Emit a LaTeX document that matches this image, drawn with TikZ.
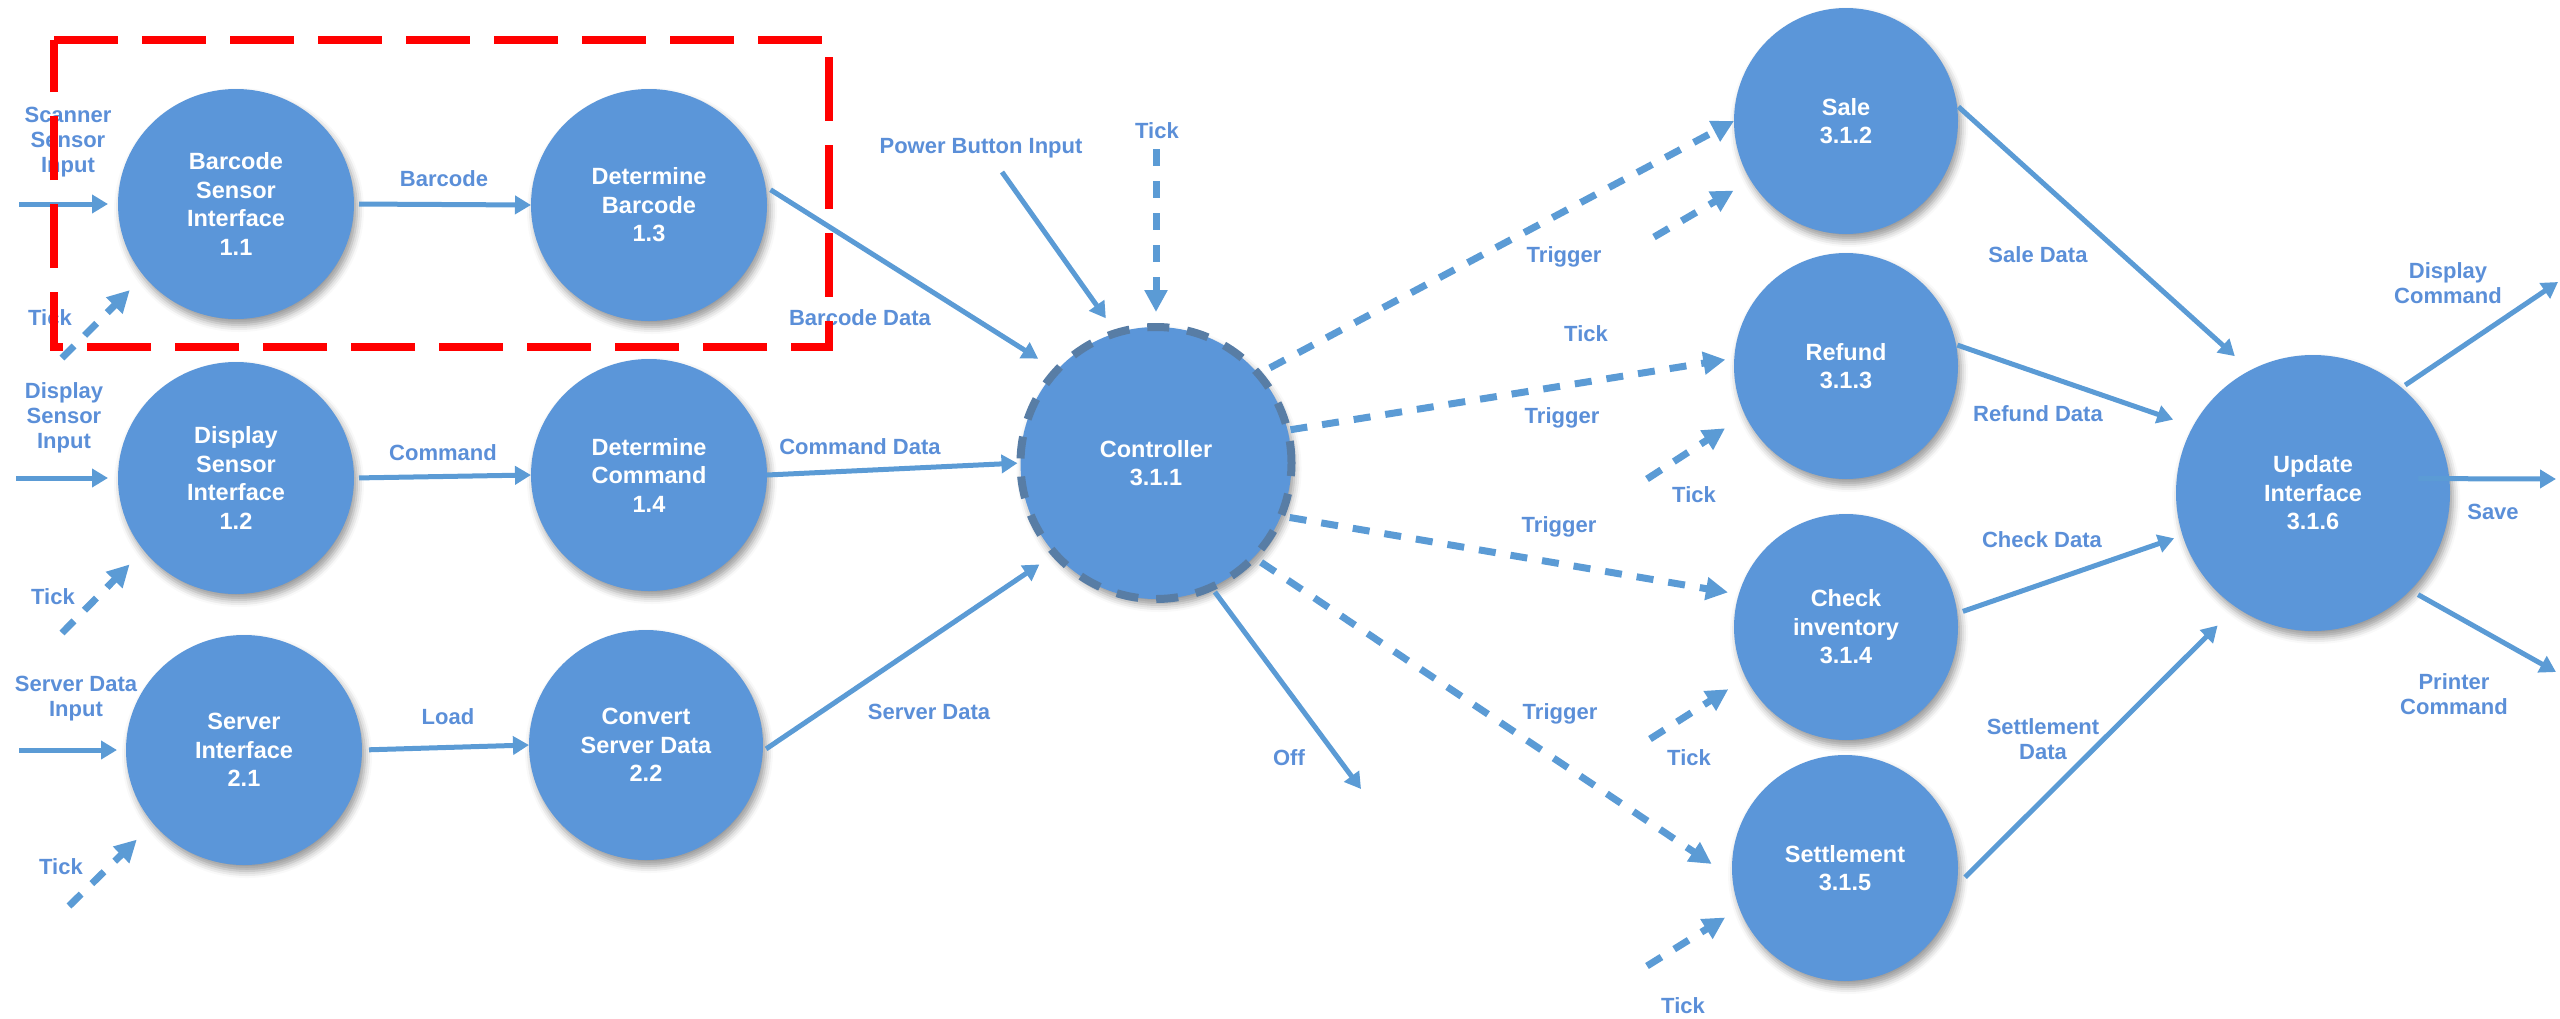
\documentclass[tikz,border=0pt]{standalone}
\usepackage{fontspec}
\setmainfont{Liberation Sans}
\usetikzlibrary{arrows.meta,shapes.geometric,shadows.blur}
\definecolor{nodefill}{RGB}{91,150,217}
\definecolor{lblblue}{RGB}{91,143,216}
\definecolor{arrblue}{RGB}{91,155,213}
\definecolor{ctrlborder}{RGB}{88,125,165}
\tikzset{
  proc/.style={ellipse, fill=nodefill, draw=none, inner sep=0pt, outer sep=0pt,
    align=center, text=white, font=\fontsize{23.5}{28.5}\selectfont\bfseries,
    blur shadow={shadow xshift=3pt, shadow yshift=-6pt, shadow blur radius=7pt, shadow opacity=40}},
  lbl/.style={text=lblblue, align=center, font=\fontsize{22}{25}\selectfont\bfseries, inner sep=0pt},
  flow/.style={draw=arrblue, line width=5pt, -{Triangle[length=16pt,width=18pt]}},
  ctl/.style={draw=arrblue, line width=7pt, dash pattern=on 17pt off 15pt, -{Triangle[length=22pt,width=22pt]}},
  redbox/.style={draw=red, line width=8pt, dash pattern=on 64pt off 24pt},
}
\begin{document}
\begin{tikzpicture}[x=1pt, y=-1pt]
\useasboundingbox (0,0) rectangle (2560,1018);
% process nodes
\node[proc, minimum width=236pt, minimum height=230pt] (n11) at (236,204) {Barcode\\Sensor\\Interface\\1.1};
\node[proc, minimum width=236pt, minimum height=232pt] (n13) at (649,205) {Determine\\Barcode\\1.3};
\node[proc, minimum width=236pt, minimum height=232pt] (n12) at (236,478) {Display\\Sensor\\Interface\\1.2};
\node[proc, minimum width=236pt, minimum height=232pt] (n14) at (649,475) {Determine\\Command\\1.4};
\node[proc, minimum width=236pt, minimum height=230pt] (n21) at (244,750) {Server\\Interface\\2.1};
\node[proc, minimum width=234pt, minimum height=230pt] (n22) at (646,745) {Convert\\Server Data\\2.2};
\node[proc, draw=ctrlborder, line width=8pt, dash pattern=on 22pt off 18pt, minimum width=271pt, minimum height=272pt] (ctrl) at (1156,463) {Controller\\3.1.1};
\node[proc, minimum width=224pt, minimum height=226pt] (sale) at (1846,121) {Sale\\3.1.2};
\node[proc, minimum width=224pt, minimum height=226pt] (refund) at (1846,366) {Refund\\3.1.3};
\node[proc, minimum width=224pt, minimum height=226pt] (check) at (1846,627) {Check\\inventory\\3.1.4};
\node[proc, minimum width=226pt, minimum height=226pt] (settle) at (1845,868) {Settlement\\3.1.5};
\node[proc, minimum width=274pt, minimum height=276pt] (update) at (2313,493) {Update\\Interface\\3.1.6};
% free ends
\coordinate (si) at (19,204);
\coordinate (di) at (16,478);
\coordinate (sv) at (19,750);
\coordinate (t11) at (62,358);
\coordinate (t12) at (62,633);
\coordinate (t21) at (69,906);
\coordinate (pb) at (1002,172);
\coordinate (tc) at (1156,149);
\coordinate (off) at (1361,789);
\coordinate (ts) at (1654,237);
\coordinate (tr) at (1647,479);
\coordinate (tk) at (1650,739);
\coordinate (tst) at (1647,966);
\coordinate (dc) at (2558,282);
\coordinate (sv2) at (2556,479);
\coordinate (pc) at (2556,672);
% connectors
\draw[flow, shorten >=10pt] (si) -- (n11.west);
\draw[flow, shorten <=5pt] (n11.east) -- (n13.west);
\draw[ctl, shorten >=20pt] (t11) -- (n11.218);
\draw[flow, shorten <=6pt, shorten >=22pt] (n13.9) -- (ctrl.137);
\draw[flow, shorten >=10pt] (di) -- (n12.west);
\draw[flow, shorten <=5pt] (n12.east) -- (n14.west);
\draw[ctl, shorten >=20pt] (t12) -- (n12.218);
\draw[flow, shorten >=3pt] (n14.east) -- (ctrl.west);
\draw[flow, shorten >=9pt] (sv) -- (n21.west);
\draw[flow, shorten <=7pt] (n21.east) -- (n22.west);
\draw[ctl, shorten >=23pt] (t21) -- (n21.219);
\draw[flow, shorten <=4pt, shorten >=19pt] (n22.-3) -- (ctrl.222);
\draw[flow, shorten >=18pt] (pb) -- (ctrl.107);
\draw[ctl, shorten >=15pt] (tc) -- (ctrl.north);
\draw[flow, shorten <=6pt] (ctrl.-66) -- (off);
\draw[ctl, shorten <=13pt] (ctrl.41) -- (sale.west);
\draw[ctl, shorten >=20pt] (ts) -- (sale.212);
\draw[ctl, shorten <=3pt, shorten >=9pt] (ctrl.14) -- (refund.176);
\draw[ctl, shorten >=24pt] (tr) -- (refund.206);
\draw[ctl, shorten <=9pt, shorten >=11pt] (ctrl.-23) -- (check.163);
\draw[ctl, shorten >=21pt] (tk) -- (check.207);
\draw[ctl, shorten <=9pt, shorten >=25pt] (ctrl.-44) -- (settle.185);
\draw[ctl, shorten >=17pt] (tst) -- (settle.201);
\draw[flow, shorten <=2pt, shorten >=21pt] (sale.8) -- (update.117);
\draw[flow, shorten <=1.5pt, shorten >=21pt] (refund.11) -- (update.151);
\draw[flow, shorten <=6pt, shorten >=9pt] (check.7) -- (update.198);
\draw[flow, shorten <=12pt, shorten >=26pt] (settle.-9) -- (update.236);
\draw[flow, shorten <=4.5pt] (update.50) -- (dc);
\draw[flow, shorten <=-31pt] (update.6) -- (sv2);
\draw[flow, shorten <=9pt] (update.-45) -- (pc);
% labels
\node[lbl] (lsi) at (68,142) {Scanner\\Sensor\\Input};
\node[lbl] (lbc) at (444,179) {Barcode};
\node[lbl] (lt11) at (50,318) {Tick};
\node[lbl] (lbd) at (860,318) {Barcode Data};
\node[lbl] (ldi) at (64,418) {Display\\Sensor\\Input};
\node[lbl] (lcm) at (443,453) {Command};
\node[lbl] (lcd) at (860,447) {Command Data};
\node[lbl] (lt12) at (53,597) {Tick};
\node[lbl] (lsd) at (76,699) {Server Data\\Input};
\node[lbl] (lld) at (448,717) {Load};
\node[lbl] (lt21) at (61,867) {Tick};
\node[lbl] (lsvd) at (929,712) {Server Data};
\node[lbl] (lpb) at (981,148) {Power Button Input};
\node[lbl] (ltc) at (1157,131) {Tick};
\node[lbl] (loff) at (1289,758) {Off};
\node[lbl] (ltr1) at (1564,257) {Trigger};
\node[lbl] (ltk2) at (1586,334) {Tick};
\node[lbl] (ltr2) at (1562,418) {Trigger};
\node[lbl] (ltk3) at (1694,495) {Tick};
\node[lbl] (ltr3) at (1559,527) {Trigger};
\node[lbl] (ltk4) at (1689,758) {Tick};
\node[lbl] (ltr4) at (1560,714) {Trigger};
\node[lbl] (ltk5) at (1683,1006) {Tick};
\node[lbl] (lsale) at (2038,255) {Sale Data};
\node[lbl] (lref) at (2038,414) {Refund Data};
\node[lbl] (lchk) at (2042,540) {Check Data};
\node[lbl] (lset) at (2043,739) {Settlement\\Data};
\node[lbl] (ldc) at (2448,283) {Display\\Command};
\node[lbl] (lsave) at (2493,512) {Save};
\node[lbl] (lpc) at (2454,694) {Printer\\Command};
% red dashed frame
\draw[redbox] (54,40) -- (829,40) -- (829,347) -- (54,347) -- cycle;
\end{tikzpicture}
\end{document}
